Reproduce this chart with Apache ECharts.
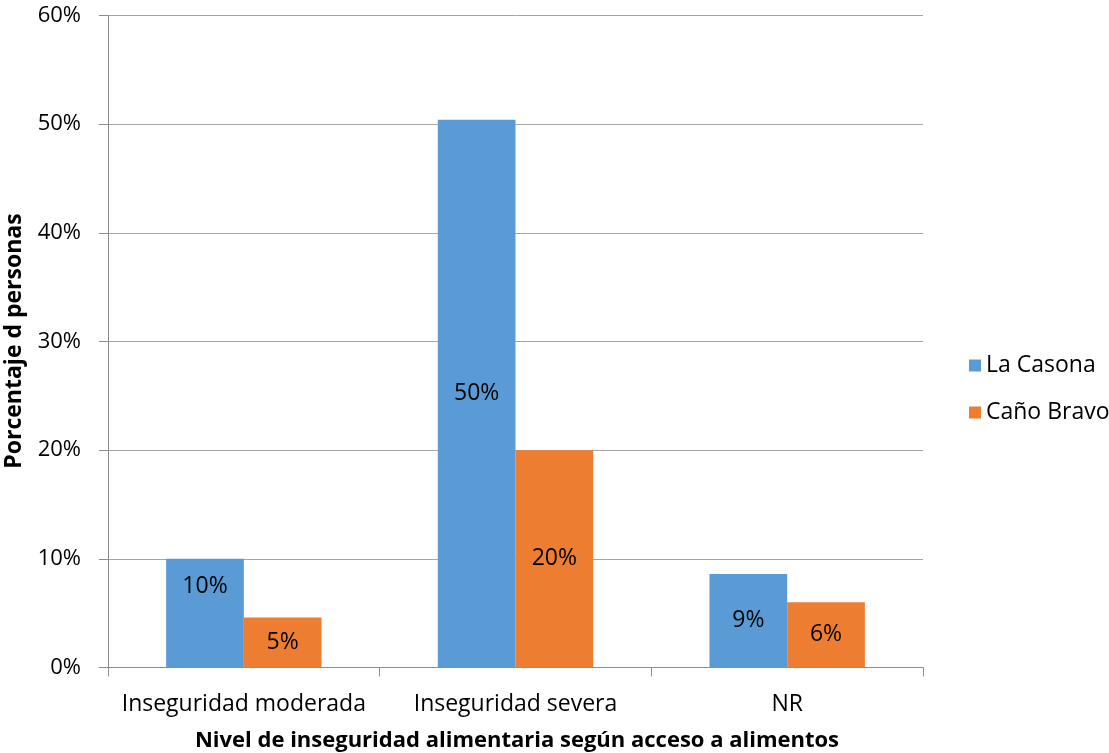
<!DOCTYPE html>
<html>
<head>
<meta charset="utf-8">
<script src="https://cdn.jsdelivr.net/npm/echarts@6/dist/echarts.min.js"></script>
<style>
  html, body { margin: 0; padding: 0; background: #fff; }
  #chart { width: 1109px; height: 753px; }
</style>
</head>
<body>
<div id="chart"></div>
<script>
// Share of people by level of food insecurity (access to food), per community
const categories = ['Inseguridad moderada', 'Inseguridad severa', 'NR'];
const seriesNames = ['La Casona', 'Caño Bravo'];
const laCasona = [0.100, 0.504, 0.086];
const canoBravo = [0.046, 0.200, 0.060];
const yTicks = [0, 0.1, 0.2, 0.3, 0.4, 0.5, 0.6];

const FONT = '"Open Sans"';
const colors = ['#5B9BD5', '#ED7D31'];
const pct = v => Math.round(v * 100) + '%';

const chart = echarts.init(document.getElementById('chart'), null, { renderer: 'canvas' });

function barSeries(name, values, color, labelShift) {
  return {
    name: name,
    type: 'bar',
    barGap: '0%',
    barCategoryGap: '42.8%',
    itemStyle: { color: color },
    label: {
      show: true,
      position: 'inside',
      color: '#000',
      fontFamily: FONT,
      fontSize: 23,
      formatter: p => pct(p.value)
    },
    data: values.map((v, i) => {
      const item = { value: v };
      if (labelShift[i]) item.label = { offset: [0, labelShift[i]] };
      return item;
    })
  };
}

chart.setOption({
  animation: false,
  color: colors,
  grid: { left: 108, right: 186, top: 15.5, bottom: 85.5, containLabel: false },
  legend: {
    orient: 'vertical',
    left: 964,
    top: 349,
    icon: 'rect',
    itemWidth: 12,
    itemHeight: 12,
    itemGap: 24,
    textStyle: { fontFamily: FONT, fontSize: 23, color: '#000' },
    data: seriesNames
  },
  xAxis: {
    type: 'category',
    data: categories,
    axisLine: { show: true, lineStyle: { color: '#8c8c8c', width: 1 } },
    axisTick: { show: true, length: 9, alignWithLabel: false, lineStyle: { color: '#8c8c8c' } },
    axisLabel: { interval: 0, hideOverlap: false, margin: 25, color: '#000', fontFamily: FONT, fontSize: 23 }
  },
  yAxis: {
    type: 'value',
    min: yTicks[0],
    max: yTicks[yTicks.length - 1],
    interval: 0.1,
    axisLine: { show: true, lineStyle: { color: '#8c8c8c', width: 1 } },
    axisTick: { show: true, length: 9, lineStyle: { color: '#8c8c8c' } },
    splitLine: { show: true, lineStyle: { color: '#a6a6a6', width: 1 } },
    axisLabel: { margin: 27, color: '#000', fontFamily: FONT, fontSize: 22, formatter: v => pct(v) }
  },
  graphic: [
    {
      type: 'text',
      x: 14, y: 341,
      rotation: Math.PI / 2,
      style: {
        text: 'Porcentaje d personas',
        fontFamily: FONT, fontSize: 23, fontWeight: 'bold', fill: '#000',
        textAlign: 'center', textVerticalAlign: 'middle'
      }
    },
    {
      type: 'text',
      x: 517, y: 741,
      style: {
        text: 'Nivel de inseguridad alimentaria según acceso a alimentos',
        fontFamily: FONT, fontSize: 22, fontWeight: 'bold', fill: '#000',
        textAlign: 'center', textVerticalAlign: 'middle'
      }
    }
  ],
  series: [
    barSeries(seriesNames[0], laCasona, colors[0], [-27, 0, 0]),
    barSeries(seriesNames[1], canoBravo, colors[1], [0, 0, 0])
  ]
});
</script>
</body>
</html>
